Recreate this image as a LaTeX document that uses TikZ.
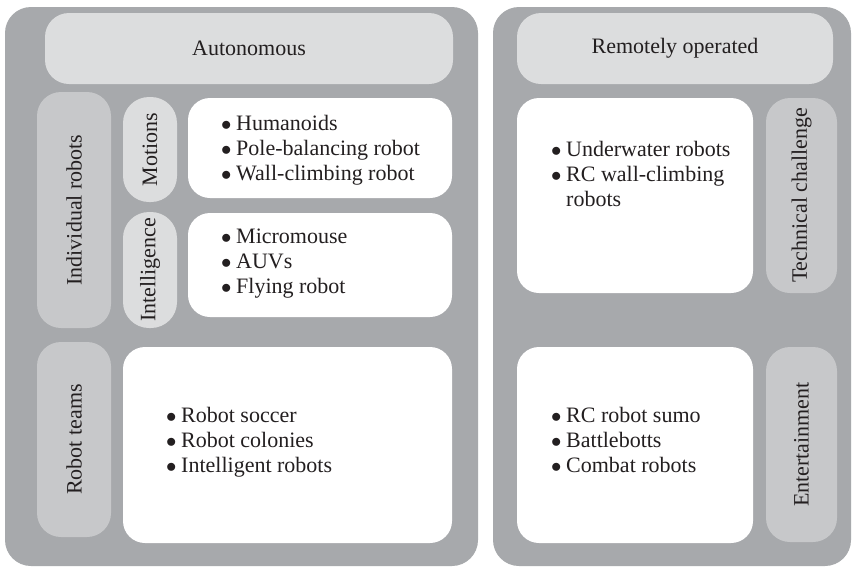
\documentclass[tikz,border=0pt]{standalone}
\usepackage{fontspec}
\setmainfont{Liberation Serif}
\definecolor{panelgray}{HTML}{A7A9AC}
\definecolor{headgray}{HTML}{DCDDDE}
\definecolor{pillgray}{HTML}{C7C8CA}
\definecolor{txt}{HTML}{231F20}
\newcommand{\bul}[1]{\makebox[15pt][l]{$\bullet$}#1}
\tikzset{
  shapebox/.style={rectangle, draw=none, inner sep=0pt, outer sep=0pt, rounded corners=24pt},
  panelbox/.style={shapebox, fill=panelgray, rounded corners=26pt},
  headbox/.style={shapebox, fill=headgray},
  darkpill/.style={shapebox, fill=pillgray},
  lightpill/.style={shapebox, fill=headgray, rounded corners=26pt},
  whitebox/.style={shapebox, fill=white, rounded corners=22pt},
  lbl/.style={inner sep=0pt, text=txt, font=\fontsize{22}{25}\selectfont},
  vlbl/.style={lbl, rotate=90},
  listtext/.style={lbl, align=left, anchor=base west}
}
\begin{document}
\begin{tikzpicture}[x=1pt,y=-1pt]
\useasboundingbox[fill=white] (0,0) rectangle (854,568);
% panels
\node[panelbox, minimum width=473pt, minimum height=559pt] (lpanel) at (241.5,286.5) {};
\node[panelbox, minimum width=358pt, minimum height=559pt] (rpanel) at (672,286.5) {};
% headers
\node[headbox, minimum width=408pt, minimum height=71pt] (auto) at (249,48.5) {};
\node[lbl] (autot) at (auto.center) {Autonomous};
\node[headbox, minimum width=316pt, minimum height=71pt] (remote) at (675,48.5) {};
\node[lbl] (remotet) at (remote.center) {Remotely operated};
% left pills
\node[darkpill, minimum width=74pt, minimum height=236pt] (indiv) at (74,210) {};
\node[vlbl] (indivt) at (indiv.center) {Individual robots};
\node[darkpill, minimum width=74pt, minimum height=195pt] (teams) at (74,439.5) {};
\node[vlbl] (teamst) at (teams.center) {Robot teams};
\node[lightpill, minimum width=54pt, minimum height=105pt] (motions) at (150,149.5) {};
\node[vlbl] (motionst) at (motions.center) {Motions};
\node[lightpill, minimum width=54pt, minimum height=116pt] (intel) at (150,270) {};
\node[vlbl] (intelt) at (intel.center) {Intelligence};
% left white boxes (list anchors at the baseline of the last line)
\node[whitebox, minimum width=264pt, minimum height=100pt] (mbox) at (320,148) {};
\node[listtext] (mlist) at (221,180) {\bul{Humanoids}\\\bul{Pole-balancing robot}\\\bul{Wall-climbing robot}};
\node[whitebox, minimum width=264pt, minimum height=104pt] (ibox) at (320,265) {};
\node[listtext] (ilist) at (221,293) {\bul{Micromouse}\\\bul{AUVs}\\\bul{Flying robot}};
\node[whitebox, minimum width=329pt, minimum height=196pt] (tbox) at (287.5,445) {};
\node[listtext] (tlist) at (166,472) {\bul{Robot soccer}\\\bul{Robot colonies}\\\bul{Intelligent robots}};
% right side
\node[whitebox, minimum width=236pt, minimum height=195pt] (rtbox) at (635,195.5) {};
\node[listtext] (rtlist) at (551,206) {\bul{Underwater robots}\\\bul{RC wall-climbing}\\\hspace*{15pt}robots};
\node[darkpill, minimum width=71pt, minimum height=195pt] (tech) at (801.5,195.5) {};
\node[vlbl] (techt) at (tech.center) {Technical challenge};
\node[whitebox, minimum width=236pt, minimum height=196pt] (rbbox) at (635,445) {};
\node[listtext] (rblist) at (551,472) {\bul{RC robot sumo}\\\bul{Battlebotts}\\\bul{Combat robots}};
\node[darkpill, minimum width=71pt, minimum height=195pt] (ent) at (801.5,444.5) {};
\node[vlbl] (entt) at (ent.center) {Entertainment};
\end{tikzpicture}
\end{document}
